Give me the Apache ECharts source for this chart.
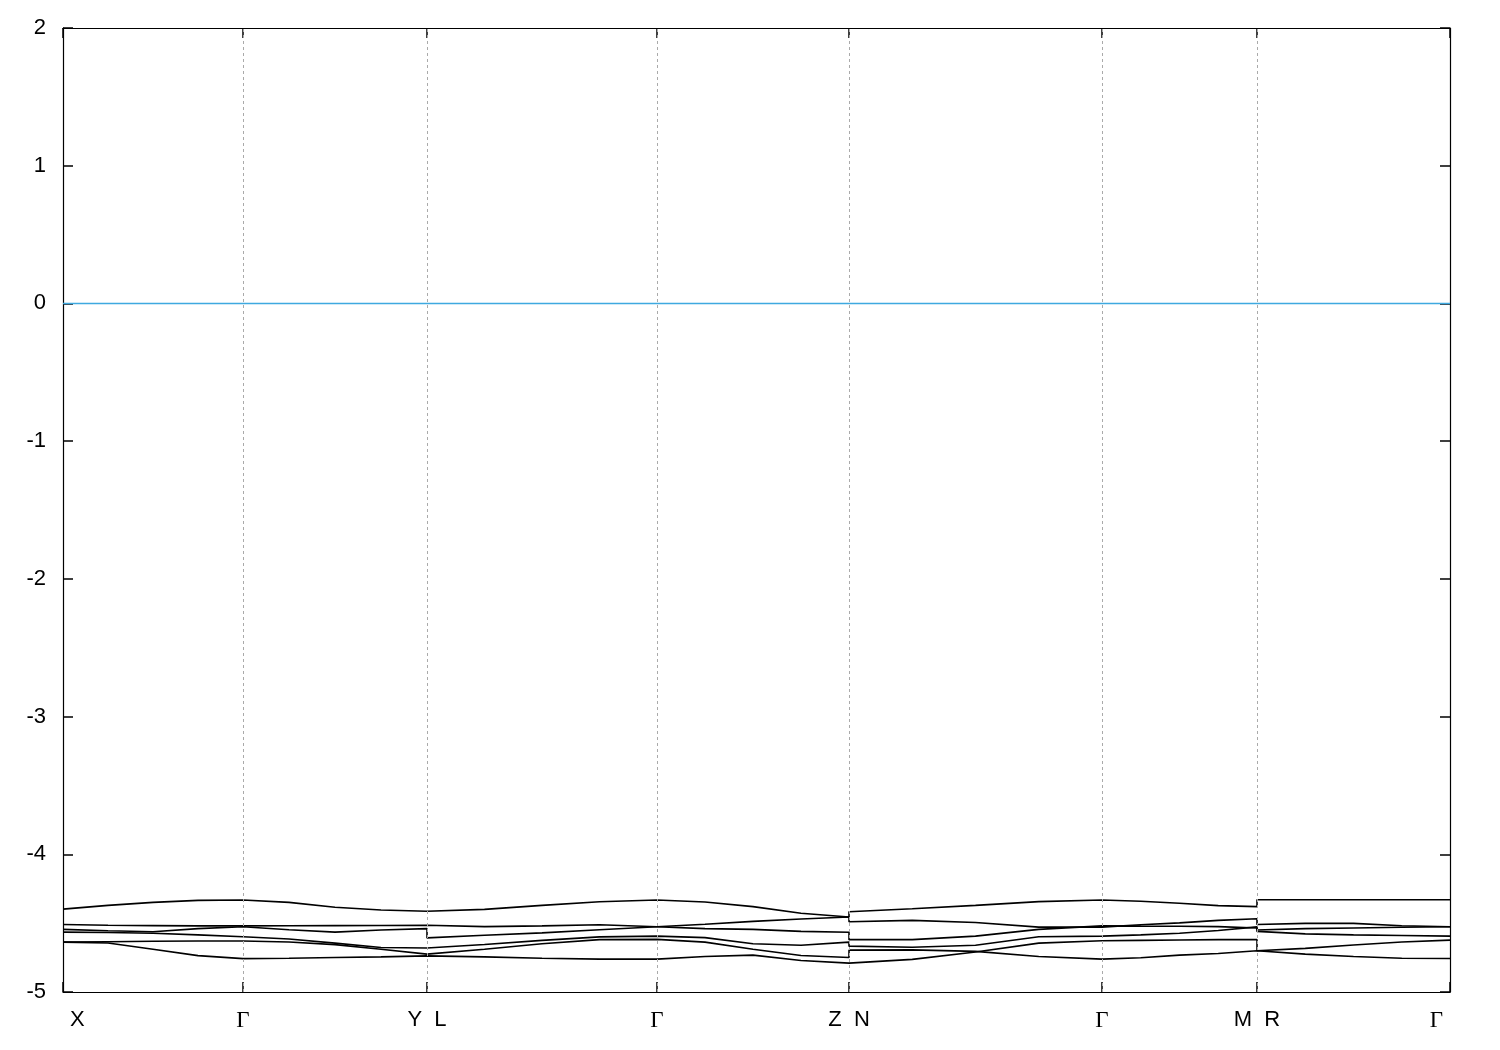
<!DOCTYPE html>
<html>
<head>
<meta charset="utf-8">
<script src="https://cdn.jsdelivr.net/npm/echarts@6/dist/echarts.min.js"></script>
<style>html,body{margin:0;padding:0;background:#fff}#c{width:1500px;height:1050px}</style>
</head>
<body>
<div id="c"></div>
<script>
// k-path positions (symmetry points)
const kTicks = [0, 180, 364, 594, 786, 1039, 1194, 1387];
const kLabels = ['X', 'Γ', 'Y  L', 'Γ', 'Z  N', 'Γ', 'M  R', 'Γ'];
// sample positions along the path (duplicated at discontinuities)
const kPath = [0,45,90,135,180, 180,226,272,318,364, 364,421.5,479,536.5,594, 594,642,690,738,786,
  786,849.25,912.5,975.75,1039, 1039,1077.75,1116.5,1155.25,1194, 1194,1242.25,1290.5,1338.75,1387];
const band1 = [-4.398,-4.371,-4.349,-4.335,-4.332, -4.332,-4.349,-4.385,-4.405,-4.414, -4.417,-4.400,-4.371,-4.345,-4.332,
  -4.332,-4.346,-4.380,-4.428,-4.455, -4.417,-4.395,-4.371,-4.344,-4.332, -4.332,-4.341,-4.356,-4.373,-4.380, -4.330,-4.330,-4.330,-4.330,-4.330];
const band2 = [-4.510,-4.515,-4.518,-4.520,-4.520, -4.520,-4.519,-4.518,-4.517,-4.515, -4.519,-4.525,-4.520,-4.512,-4.526,
  -4.526,-4.540,-4.545,-4.560,-4.566, -4.620,-4.620,-4.594,-4.545,-4.520, -4.520,-4.522,-4.523,-4.525,-4.535, -4.560,-4.578,-4.585,-4.590,-4.594];
const band3 = [-4.545,-4.555,-4.562,-4.540,-4.526, -4.526,-4.548,-4.565,-4.550,-4.540, -4.607,-4.588,-4.571,-4.548,-4.526,
  -4.526,-4.508,-4.487,-4.470,-4.455, -4.490,-4.480,-4.495,-4.529,-4.529, -4.529,-4.512,-4.498,-4.480,-4.468, -4.510,-4.502,-4.502,-4.519,-4.526];
const band4 = [-4.565,-4.568,-4.573,-4.585,-4.599, -4.599,-4.615,-4.645,-4.677,-4.681, -4.667,-4.655,-4.625,-4.600,-4.594,
  -4.594,-4.605,-4.650,-4.660,-4.638, -4.667,-4.675,-4.660,-4.599,-4.594, -4.594,-4.585,-4.573,-4.553,-4.527, -4.550,-4.540,-4.535,-4.530,-4.526];
const band5 = [-4.638,-4.635,-4.632,-4.630,-4.630, -4.630,-4.637,-4.656,-4.690,-4.725, -4.725,-4.690,-4.650,-4.620,-4.618,
  -4.618,-4.638,-4.689,-4.735,-4.750, -4.696,-4.694,-4.705,-4.742,-4.761, -4.761,-4.751,-4.732,-4.720,-4.700, -4.710,-4.725,-4.742,-4.755,-4.757];
const band6 = [-4.638,-4.644,-4.690,-4.736,-4.758, -4.758,-4.755,-4.750,-4.745,-4.738, -4.739,-4.745,-4.755,-4.761,-4.761,
  -4.761,-4.742,-4.732,-4.771,-4.790, -4.790,-4.763,-4.710,-4.645,-4.628, -4.628,-4.625,-4.622,-4.620,-4.620, -4.700,-4.683,-4.659,-4.637,-4.623];
const bands = [band1, band2, band3, band4, band5, band6];
const fermiLevel = 0;
const yMin = -5, yMax = 2, yStep = 1;

const chart = echarts.init(document.getElementById('c'), null, {renderer: 'canvas'});
const labelMap = {};
kTicks.forEach((k, i) => labelMap[k] = kLabels[i]);

const series = bands.map(b => ({
  type: 'line', data: kPath.map((k, i) => [k, b[i]]), showSymbol: false, symbol: 'none',
  lineStyle: {color: '#000', width: 1.6}, silent: true, animation: false, z: 3
}));
series.push({
  type: 'line', data: [[kTicks[0], fermiLevel], [kTicks[kTicks.length - 1], fermiLevel]],
  showSymbol: false, symbol: 'none', lineStyle: {color: '#3ea9e0', width: 1.6}, silent: true, z: 2,
  markLine: {
    symbol: 'none', silent: true, label: {show: false},
    lineStyle: {color: '#aaaaaa', type: [3, 3], width: 1},
    data: kTicks.slice(1, -1).map(k => ({xAxis: k}))
  }
});

const common = {
  min: 0, max: kTicks[kTicks.length - 1], type: 'value',
  splitLine: {show: false},
  axisLine: {show: true, onZero: false, lineStyle: {color: '#000', width: 1.2}},
};
chart.setOption({
  animation: false,
  backgroundColor: '#fff',
  grid: {left: 63, right: 50, top: 28, bottom: 58, containLabel: false},
  xAxis: [
    Object.assign({}, common, {
      position: 'bottom',
      axisTick: {show: true, inside: true, length: 10, customValues: kTicks, lineStyle: {color: '#000', width: 1.5}},
      axisLabel: {
        show: true, customValues: kTicks, margin: 17, color: '#000',
        fontFamily: 'Liberation Sans, Arial, sans-serif', fontSize: 22,
        formatter: v => {
          const t = labelMap[v];
          if (t === 'Γ') return '{g|Γ}';
          return '{s|' + t + '}';
        },
        rich: {
          g: {fontFamily: 'Liberation Serif, DejaVu Serif, serif', fontSize: 23, color: '#000'},
          s: {fontFamily: 'Liberation Sans, Arial, sans-serif', fontSize: 22, color: '#000'}
        },
        alignMinLabel: 'left', alignMaxLabel: 'right',
        padding: [0, 7, 0, 7]
      }
    }),
    Object.assign({}, common, {
      position: 'top',
      axisTick: {show: true, inside: true, length: 10, customValues: kTicks, lineStyle: {color: '#000', width: 1.5}},
      axisLabel: {show: false}
    })
  ],
  yAxis: [
    {
      type: 'value', min: yMin, max: yMax, interval: yStep, position: 'left',
      splitLine: {show: false},
      axisLine: {show: true, onZero: false, lineStyle: {color: '#000', width: 1.2}},
      axisTick: {show: true, inside: true, length: 10, lineStyle: {color: '#000', width: 1.5}},
      axisLabel: {margin: 17, color: '#000', fontFamily: 'Liberation Sans, Arial, sans-serif', fontSize: 22}
    },
    {
      type: 'value', min: yMin, max: yMax, interval: yStep, position: 'right',
      splitLine: {show: false},
      axisLine: {show: true, onZero: false, lineStyle: {color: '#000', width: 1.2}},
      axisTick: {show: true, inside: true, length: 10, lineStyle: {color: '#000', width: 1.5}},
      axisLabel: {show: false}
    }
  ],
  series: series
});
</script>
</body>
</html>
